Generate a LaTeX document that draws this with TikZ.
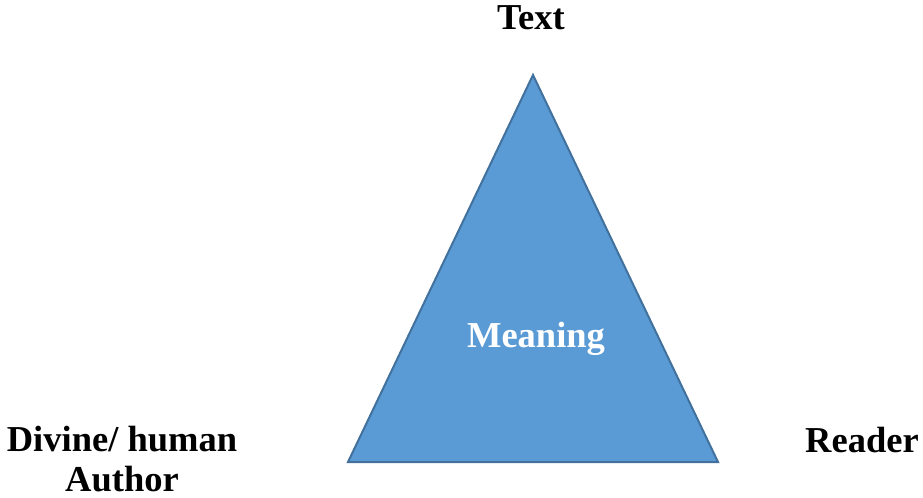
\documentclass[tikz,border=0pt]{standalone}
\usepackage{fontspec}
\setmainfont{Liberation Serif}
\usepackage{xcolor}
\definecolor{azulos}{RGB}{91,155,213}
\definecolor{bordeazul}{RGB}{65,113,156}
\usepackage{tikz}
\usetikzlibrary{positioning}

\begin{document}
\begin{tikzpicture}[x=0.5pt, y=-0.5pt,
    etiqueta/.style = {font=\fontsize{18.25}{20}\selectfont\bfseries, inner sep=0pt, anchor=base, align=center}]
      % Marco
      \useasboundingbox (0,0) rectangle (923,498);

      % Triangulo
      \coordinate (cima) at (533,75);
      \coordinate (izq) at (348,462);
      \coordinate (der) at (718,462);
      \draw[bordeazul, fill=azulos, line width=1pt, line join=miter] (cima) -- (der) -- (izq) -- cycle;

      % Etiquetas
      \node[etiqueta] (texto) at (531,29) {Text};
      \node[etiqueta, text=white] (significado) at (536,347) {Meaning};
      \node[etiqueta] (lector) at (862,452) {Reader};
      \node[etiqueta] (autor) at (122,491) {Divine/ human\\Author};
\end{tikzpicture}
\end{document}
